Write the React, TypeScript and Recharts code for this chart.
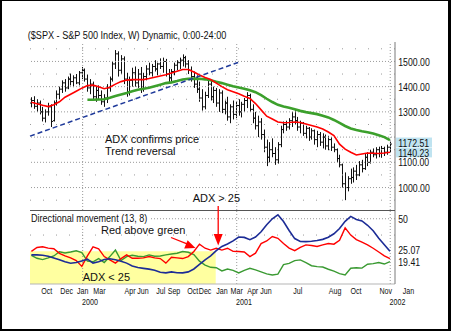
import React from "react";
import {
  ComposedChart,
  Bar,
  Line,
  XAxis,
  YAxis,
  ReferenceLine,
  ReferenceArea,
} from "recharts";

const FONT = "'Liberation Sans', Arial, Helvetica, sans-serif";

// weekly $SPX bars, index = week on the chart
const weekOpen = [
  1335, 1345, 1322, 1335, 1300, 1275, 1300, 1320, 1265, 1335,
  1370, 1390, 1415, 1395, 1430, 1420, 1435, 1415, 1455, 1465,
  1430, 1395, 1410, 1360, 1385, 1365, 1340, 1355, 1395, 1430,
  1490, 1530, 1465, 1510, 1430, 1380, 1425, 1455, 1415, 1450,
  1390, 1440, 1470, 1455, 1480, 1470, 1490, 1480, 1500, 1450,
  1435, 1460, 1485, 1495, 1505, 1515, 1490, 1465, 1440, 1410,
  1390, 1355, 1320, 1365, 1410, 1360, 1385, 1335, 1375, 1310,
  1335, 1280, 1320, 1290, 1325, 1300, 1330, 1345, 1365, 1310,
  1275, 1245, 1260, 1210, 1160, 1120, 1150, 1135, 1110, 1170,
  1230, 1250, 1240, 1265, 1280, 1265, 1240, 1255, 1215, 1235,
  1200, 1225, 1190, 1210, 1180, 1200, 1165, 1190, 1160, 1150,
  1115, 1090, 1015, 1000, 1035, 1040, 1065, 1050, 1090, 1075,
  1120, 1100, 1140, 1130, 1150, 1135, 1155, 1140, 1160,
];
const weekHigh = [
  1358, 1362, 1350, 1345, 1320, 1310, 1336, 1330, 1345, 1385,
  1400, 1425, 1430, 1440, 1452, 1445, 1450, 1462, 1478, 1472,
  1448, 1430, 1420, 1400, 1405, 1385, 1370, 1410, 1440, 1500,
  1545, 1540, 1525, 1520, 1455, 1440, 1475, 1480, 1470, 1478,
  1455, 1485, 1495, 1490, 1505, 1495, 1512, 1515, 1510, 1470,
  1470, 1495, 1505, 1515, 1528, 1522, 1505, 1480, 1460, 1445,
  1420, 1390, 1380, 1430, 1425, 1400, 1395, 1390, 1385, 1345,
  1360, 1330, 1345, 1340, 1350, 1340, 1355, 1378, 1372, 1330,
  1300, 1285, 1275, 1230, 1190, 1180, 1195, 1160, 1180, 1245,
  1262, 1265, 1275, 1300, 1310, 1280, 1265, 1260, 1245, 1240,
  1235, 1230, 1225, 1220, 1215, 1210, 1205, 1200, 1175, 1155,
  1130, 1095, 1060, 1045, 1075, 1080, 1090, 1105, 1110, 1135,
  1140, 1150, 1155, 1160, 1162, 1165, 1162, 1170, 1182,
];
const weekLow = [
  1318, 1312, 1300, 1290, 1262, 1258, 1285, 1240, 1262, 1325,
  1350, 1375, 1380, 1390, 1405, 1398, 1410, 1405, 1430, 1420,
  1380, 1370, 1345, 1340, 1350, 1328, 1320, 1335, 1380, 1420,
  1470, 1440, 1450, 1410, 1360, 1365, 1400, 1400, 1395, 1375,
  1380, 1425, 1445, 1440, 1460, 1445, 1470, 1455, 1440, 1418,
  1420, 1445, 1465, 1470, 1480, 1475, 1450, 1420, 1395, 1375,
  1340, 1305, 1310, 1355, 1345, 1335, 1320, 1300, 1295, 1290,
  1265, 1255, 1270, 1275, 1285, 1278, 1300, 1315, 1300, 1255,
  1230, 1200, 1190, 1140, 1085, 1100, 1120, 1090, 1095, 1160,
  1215, 1225, 1230, 1240, 1250, 1225, 1215, 1205, 1195, 1185,
  1190, 1170, 1160, 1165, 1155, 1150, 1148, 1145, 1140, 1100,
  1080, 1000, 950, 985, 1015, 1020, 1030, 1045, 1060, 1070,
  1085, 1095, 1120, 1115, 1120, 1118, 1125, 1130, 1140,
];
const weekClose = [
  1345, 1322, 1335, 1300, 1275, 1300, 1320, 1262, 1335, 1370,
  1390, 1415, 1395, 1430, 1420, 1435, 1415, 1455, 1465, 1430,
  1395, 1410, 1360, 1385, 1365, 1340, 1355, 1395, 1430, 1490,
  1530, 1465, 1510, 1430, 1380, 1425, 1455, 1415, 1450, 1390,
  1440, 1470, 1455, 1480, 1470, 1490, 1480, 1500, 1450, 1435,
  1460, 1485, 1495, 1505, 1515, 1490, 1465, 1440, 1410, 1390,
  1355, 1320, 1365, 1410, 1360, 1385, 1335, 1375, 1310, 1335,
  1280, 1320, 1290, 1325, 1300, 1330, 1345, 1365, 1310, 1275,
  1245, 1260, 1210, 1160, 1120, 1150, 1135, 1110, 1170, 1230,
  1250, 1240, 1265, 1280, 1265, 1240, 1255, 1215, 1235, 1200,
  1225, 1190, 1210, 1180, 1200, 1165, 1190, 1160, 1150, 1115,
  1090, 1015, 1000, 1035, 1040, 1065, 1050, 1090, 1075, 1120,
  1100, 1140, 1130, 1150, 1135, 1155, 1140, 1160, 1172.51,
];

// moving averages, one value every 2nd week
const fastMa = [
  1338, 1332, 1326, 1321, 1328, 1340, 1358, 1370, 1382, 1394,
  1404, 1406, 1400, 1392, 1398, 1410, 1420, 1426, 1428, 1428,
  1428, 1432, 1437, 1442, 1447, 1454, 1461, 1468, 1468, 1458,
  1446, 1436, 1428, 1414, 1400, 1388, 1380, 1372, 1362, 1353,
  1333, 1308, 1283, 1272, 1260, 1257, 1258, 1260, 1258, 1252,
  1246, 1240, 1232, 1220, 1206, 1172, 1152, 1140, 1129, 1133,
  1137, 1136, 1135, 1137, 1140.23,
];
const slowMaStart = 20;
const slowMa = [
  1348, 1348, 1349, 1350, 1356, 1363, 1369, 1375, 1382, 1388,
  1392, 1396, 1402, 1408, 1414, 1417, 1422, 1428, 1431, 1432,
  1431, 1429, 1425, 1419, 1414, 1408, 1402, 1397, 1392, 1386,
  1378, 1366, 1352, 1339, 1328, 1321, 1316, 1310, 1304, 1299,
  1295, 1291, 1285, 1278, 1268, 1256, 1244, 1234, 1228, 1223,
  1219, 1214, 1207, 1200, 1188,
];

// directional movement (13, 8), one value every 2nd week
const plusDi = [
  25, 28, 28.5, 27.5, 27, 23.5, 21.5, 20, 18, 13.5,
  21.5, 28.5, 27, 21, 18.5, 16, 19.5, 22.3, 19.7, 19.7,
  20, 21, 20, 19.5, 16, 20.5, 20, 19.5, 21, 24.9,
  30.5, 27.4, 26, 27.4, 26, 27.4, 25, 24.9, 24.5, 21,
  23.6, 31, 33, 36.4, 35, 31, 27.5, 25.5, 28, 30,
  29.5, 28.7, 30, 31, 30.5, 33.5, 43, 37.5, 34, 32,
  30, 27.4, 24.5, 21.5, 19.41,
];
const minusDi = [
  22, 19.7, 18.7, 20, 21.5, 24.7, 23.8, 24.5, 25.5, 24,
  17.5, 17, 19.5, 16.5, 21, 26, 18, 21, 22, 21.3,
  21, 22.3, 21.3, 21.5, 22.3, 23, 23.6, 24.9, 24.3, 22.5,
  17.5, 14.5, 12.8, 12.5, 10, 11.5, 10.5, 8.5, 10.5, 12,
  10.8, 9.3, 7.8, 6.9, 7.5, 14.8, 15.8, 17.9, 18.5, 16.3,
  14, 13.3, 13, 11.3, 9.8, 8, 6.9, 12.1, 12.5, 12.2,
  15.1, 15.6, 16.5, 15.3, 17.2,
];
const adxLine = [
  22.3, 22.3, 22, 21.3, 20, 18.6, 17, 15.9, 16.5, 17.7,
  19, 16, 17, 18.8, 19.3, 18.6, 17.5, 16, 13.8, 12.6,
  12, 11.4, 10.6, 9, 8.5, 9.3, 8.6, 8.5, 9.3, 11.5,
  15, 18.5, 21.5, 25.5, 28.8, 30.6, 33, 36, 35.7, 34,
  36, 40, 45.4, 50, 53, 47.9, 41, 34.8, 32.6, 32.5,
  32.7, 33.3, 34.2, 35.8, 38.5, 42.5, 48, 51.8, 49.5, 48.3,
  45, 40.8, 35, 30, 25.07,
];

const priceTicks = [1000, 1100, 1300, 1400, 1500];
const priceGridMajor = [1000, 1100, 1200, 1300, 1400, 1500];
const priceGridMinor = [950, 1050, 1150, 1250, 1350, 1450, 1550];
const dmiTicks = [50];
const monthTicks = [
  { week: 5.5, label: "Oct" },
  { week: 12.6, label: "Dec" },
  { week: 18.3, label: "Jan" },
  { week: 24.3, label: "Mar" },
  { week: 35.2, label: "Apr" },
  { week: 39.8, label: "Jun" },
  { week: 46.2, label: "Jul" },
  { week: 50.9, label: "Sep" },
  { week: 57.6, label: "Oct" },
  { week: 62.0, label: "Dec" },
  { week: 68.0, label: "Jan" },
  { week: 73.3, label: "Mar" },
  { week: 79.0, label: "Apr" },
  { week: 83.7, label: "Jun" },
  { week: 95.1, label: "Jul" },
  { week: 108.4, label: "Aug" },
  { week: 115.9, label: "Oct" },
  { week: 126.5, label: "Nov" },
  { week: 134.6, label: "Jan" },
];
const yearTicks = [
  { week: 20.9, label: "2000" },
  { week: 75.9, label: "2001" },
  { week: 130.7, label: "2002" },
];
const dividerWeeks = [18.3, 73.3, 128.1];
const trendLine = [
  { week: -0.5, price: 1204 },
  { week: 73.8, price: 1496 },
];
const adxThreshold = 25;
const calmUntilWeek = 65.8;

const X_DOMAIN = [-0.5, 129.8];

const bars = weekClose.map((close, i) => ({
  week: i,
  range: [weekLow[i], weekHigh[i]],
  open: weekOpen[i],
  close,
}));
const maRows = fastMa.map((v, k) => ({
  week: k * 2,
  fast: v,
  slow: k * 2 >= slowMaStart ? slowMa[(k * 2 - slowMaStart) / 2] : null,
}));
const dmiRows = plusDi.map((v, k) => ({
  week: k * 2,
  plus: v,
  minus: minusDi[k],
  adx: adxLine[k],
}));

const priceMarks = [fastMa[fastMa.length - 1], weekClose[weekClose.length - 1]];
const dmiMarks = [plusDi[plusDi.length - 1], adxLine[adxLine.length - 1]];

function OhlcBar(props: any) {
  const { x, y, width, height, payload } = props;
  if (x == null || y == null || !payload) return null;
  const top = Math.min(y, y + height);
  const bottom = Math.max(y, y + height);
  const [lo, hi] = payload.range;
  const span = hi - lo || 1;
  const cx = Math.round(x + width / 2) + 0.5;
  const yOpen = top + ((hi - payload.open) / span) * (bottom - top);
  const yClose = top + ((hi - payload.close) / span) * (bottom - top);
  return (
    <g stroke="#111" strokeWidth={1}>
      <line x1={cx} x2={cx} y1={top} y2={bottom} />
      <line x1={cx - 1.5} x2={cx} y1={yOpen} y2={yOpen} />
      <line x1={cx} x2={cx + 1.5} y1={yClose} y2={yClose} />
    </g>
  );
}

function PriceTick({ x, y, payload }: any) {
  const v = payload.value as number;
  const marked = priceMarks.includes(v);
  // the two closing values sit close together: spread them a little
  const nudge = !marked ? 0 : v === Math.max(...priceMarks) ? -1.5 : 0.5;
  return (
    <g transform={`translate(${x},${y + nudge})`}>
      {marked && <rect x={1} y={-5} width={36} height={9.7} fill="#bfe3f0" />}
      <text
        transform="scale(0.76,1)"
        x={4.3}
        y={4.1}
        fontSize={11.5}
        fontFamily={FONT}
        fill="#111"
      >
        {v.toFixed(2)}
      </text>
    </g>
  );
}

function DmiTick({ x, y, payload }: any) {
  const v = payload.value as number;
  const marked = dmiMarks.includes(v);
  // keep the two closing values apart
  const nudge = v === dmiMarks[0] ? 3.5 : v === dmiMarks[1] ? -1 : 0;
  return (
    <text
      transform={`translate(${x},${y + nudge}) scale(0.76,1)`}
      x={4.3}
      y={4.1}
      fontSize={11.5}
      fontFamily={FONT}
      fill="#111"
    >
      {marked ? v.toFixed(2) : String(v)}
    </text>
  );
}

function MonthTick({ x, y, index }: any) {
  const t = monthTicks[index];
  if (!t) return null;
  return (
    <text
      transform={`translate(${x},${y + 10.3}) scale(0.75,1)`}
      textAnchor="middle"
      fontSize={9.5}
      fontFamily={FONT}
      fill="#111"
    >
      {t.label}
    </text>
  );
}

function YearTick({ x, y, index }: any) {
  const t = yearTicks[index];
  if (!t) return null;
  return (
    <text
      transform={`translate(${x},${y + 5.5}) scale(0.75,1)`}
      textAnchor="middle"
      fontSize={9.5}
      fontFamily={FONT}
      fill="#111"
    >
      {t.label}
    </text>
  );
}

const gridDense = { stroke: "#9a9a9a", strokeDasharray: "1 2" };
const gridSparse = { stroke: "#9a9a9a", strokeDasharray: "1 12" };

function PricePanel() {
  return (
    <ComposedChart
      width={451}
      height={210}
      data={bars}
      margin={{ top: 42, right: 0, bottom: 0, left: 30 }}
    >
      <XAxis dataKey="week" type="number" domain={X_DOMAIN} hide allowDataOverflow />
      <YAxis
        orientation="right"
        type="number"
        domain={[911, 1577]}
        ticks={[...priceTicks, ...priceMarks].sort((a, b) => a - b)}
        interval={0}
        width={56}
        tick={<PriceTick />}
        tickLine={false}
        tickSize={0}
        tickMargin={0}
        axisLine={{ stroke: "#7a7a7a" }}
        allowDataOverflow
      />
      {priceGridMinor.map((v) => (
        <ReferenceLine key={`n${v}`} y={v} {...gridSparse} />
      ))}
      {priceGridMajor.map((v) => (
        <ReferenceLine key={`j${v}`} y={v} {...gridDense} />
      ))}
      {dividerWeeks.map((w) => (
        <ReferenceLine key={`d${w}`} x={w} {...gridDense} />
      ))}
      <Bar dataKey="range" barSize={3} shape={<OhlcBar />} isAnimationActive={false} />
      <Line
        data={maRows}
        dataKey="slow"
        stroke="#3ca02c"
        strokeWidth={2.6}
        dot={false}
        isAnimationActive={false}
      />
      <Line
        data={maRows}
        dataKey="fast"
        stroke="#ff0000"
        strokeWidth={1.6}
        dot={false}
        isAnimationActive={false}
      />
      <ReferenceLine
        segment={trendLine.map((p) => ({ x: p.week, y: p.price }))}
        stroke="#1f3a9a"
        strokeWidth={1.5}
        strokeDasharray="5 3"
        ifOverflow="visible"
      />
    </ComposedChart>
  );
}

function DmiPanel() {
  return (
    <ComposedChart
      width={451}
      height={104}
      data={dmiRows}
      margin={{ top: 0, right: 0, bottom: 0, left: 30 }}
    >
      <XAxis
        dataKey="week"
        type="number"
        domain={X_DOMAIN}
        ticks={monthTicks.map((m) => m.week)}
        interval={0}
        height={15}
        tick={<MonthTick />}
        tickLine={false}
        tickSize={0}
        tickMargin={0}
        axisLine={{ stroke: "#b5b5b5" }}
        allowDataOverflow
      />
      <XAxis
        xAxisId="year"
        dataKey="week"
        type="number"
        domain={X_DOMAIN}
        ticks={yearTicks.map((m) => m.week)}
        interval={0}
        height={15}
        tick={<YearTick />}
        tickLine={false}
        tickSize={0}
        tickMargin={0}
        axisLine={false}
        allowDataOverflow
      />
      <YAxis
        orientation="right"
        type="number"
        domain={[0, 56.7]}
        ticks={[...dmiMarks, ...dmiTicks]}
        interval={0}
        width={56}
        tick={<DmiTick />}
        tickLine={false}
        tickSize={0}
        tickMargin={0}
        axisLine={{ stroke: "#7a7a7a" }}
        allowDataOverflow
      />
      <ReferenceArea
        x1={X_DOMAIN[0]}
        x2={calmUntilWeek}
        y1={0}
        y2={adxThreshold}
        fill="#ffffa0"
        fillOpacity={1}
        stroke="none"
      />
      <ReferenceLine y={50} {...gridDense} />
      <ReferenceLine y={37.5} {...gridSparse} />
      {dividerWeeks.map((w) => (
        <ReferenceLine key={`d${w}`} x={w} {...gridDense} />
      ))}
      <Line dataKey="minus" stroke="#3a9a32" strokeWidth={1.4} dot={false} isAnimationActive={false} />
      <Line dataKey="plus" stroke="#ff0000" strokeWidth={1.4} dot={false} isAnimationActive={false} />
      <Line dataKey="adx" stroke="#1c2c96" strokeWidth={1.6} dot={false} isAnimationActive={false} />
    </ComposedChart>
  );
}

function Notes() {
  const note = { fontSize: 11, fontFamily: FONT, fill: "#111" };
  return (
    <svg
      width={451}
      height={331}
      style={{ position: "absolute", left: 0, top: 0, pointerEvents: "none" }}
    >
      <text transform="translate(27.7,39.3) scale(0.794,1)" fontSize={11.5} fontFamily={FONT} fill="#111">
        ($SPX - S&amp;P 500 Index, W) Dynamic, 0:00-24:00
      </text>
      <line x1={30} x2={395} y1={210.5} y2={210.5} stroke="#555" strokeWidth={1} />
      <rect x={30} y={211} width={119} height={13} fill="#fff" />
      <text transform="translate(31,221.7) scale(0.89,1)" fontSize={10.2} fontFamily={FONT} fill="#111">
        Directional movement (13, 8)
      </text>
      <text x={105} y={143.3} {...note}>ADX confirms price</text>
      <text x={105} y={154.5} {...note}>Trend reversal</text>
      <text x={192.7} y={202.3} {...note}>ADX &gt; 25</text>
      <text x={101} y={234.3} {...note}>Red above green</text>
      <text x={82.7} y={281} {...note}>ADX &lt; 25</text>
      <line x1={218.2} x2={218.2} y1={206} y2={236} stroke="#ff0000" strokeWidth={1.3} />
      <polygon points="213.7,234 222.7,234 218.2,245.5" fill="#ff0000" />
      <line x1={171} x2={187} y1={237.5} y2={243.8} stroke="#ff0000" strokeWidth={1.3} />
      <polygon points="184.2,248.6 187.6,240.2 195.5,248" fill="#ff0000" />
    </svg>
  );
}

export default function App() {
  return (
    <div
      style={{
        position: "absolute",
        left: 0,
        top: 0,
        width: 451,
        height: 331,
        background: "#fff",
        overflow: "hidden",
      }}
    >
      <div style={{ position: "absolute", left: 0, top: 0 }}>
        <PricePanel />
      </div>
      <div style={{ position: "absolute", left: 0, top: 210 }}>
        <DmiPanel />
      </div>
      <Notes />
      <div
        style={{
          position: "absolute",
          left: 0,
          top: 0,
          width: 451,
          height: 331,
          boxSizing: "border-box",
          borderTop: "1px solid #000",
          borderLeft: "2px solid #000",
          borderRight: "3px solid #000",
          borderBottom: "2px solid #000",
          pointerEvents: "none",
        }}
      />
    </div>
  );
}
